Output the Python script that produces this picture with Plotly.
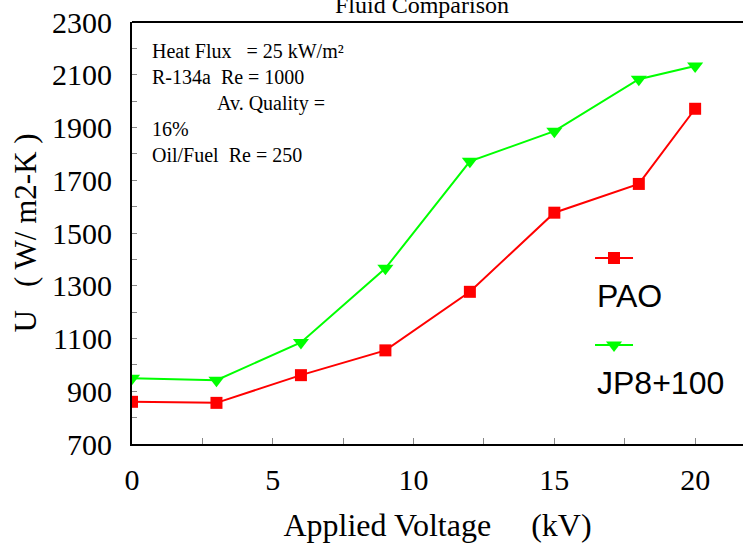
import plotly.graph_objects as go

voltage = [0, 3, 6, 9, 12, 15, 18, 20]
pao = [860, 856, 961, 1055, 1277, 1577, 1686, 1971]
jp8 = [949, 942, 1085, 1366, 1772, 1886, 2083, 2133]

x_ticks = [0, 5, 10, 15, 20]
y_ticks = [700, 900, 1100, 1300, 1500, 1700, 1900, 2100, 2300]

RED = "#FF0000"
GREEN = "#00FF00"
SERIF = "Liberation Serif"
SANS = "Liberation Sans"

fig = go.Figure()
fig.add_trace(go.Scatter(x=voltage, y=pao, mode="lines+markers", name="PAO",
                         line=dict(color=RED, width=2),
                         marker=dict(symbol="square", size=12, color=RED),
                         showlegend=False))
fig.add_trace(go.Scatter(x=voltage, y=jp8, mode="lines+markers", name="JP8+100",
                         line=dict(color=GREEN, width=2),
                         marker=dict(symbol="triangle-down", size=14, color=GREEN),
                         showlegend=False))

# legend keys drawn on an overlay axis in 0..1 units
legend_keys = [("PAO", RED, "square", 12, 0.4408), ("JP8+100", GREEN, "triangle-down", 14, 0.2346)]
shapes = [dict(type="line", xref="paper", yref="paper", x0=0, x1=1, y0=1, y1=1,
               line=dict(color="black", width=2))]
for name, col, sym, sz, yk in legend_keys:
    shapes.append(dict(type="line", xref="paper", yref="paper", x0=0.7578, x1=0.8200,
                       y0=yk, y1=yk, line=dict(color=col, width=2)))
    fig.add_trace(go.Scatter(x=[0.7889], y=[yk], mode="markers",
                             xaxis="x2", yaxis="y2", showlegend=False, hoverinfo="skip",
                             marker=dict(symbol=sym, size=sz, color=col)))

annotations = [
    dict(text="Fluid Comparison", xref="paper", yref="paper", x=0.4746, y=1,
         xanchor="center", yanchor="bottom", yshift=2, showarrow=False,
         font=dict(family=SERIF, size=24, color="black")),
    dict(text=("Heat Flux&nbsp;&nbsp;&nbsp;= 25 kW/m²<br>"
               "R-134a&nbsp;&nbsp;Re = 1000<br>"
               + "&nbsp;" * 13 + "Av. Quality =<br>"
               "16%<br>"
               "Oil/Fuel&nbsp;&nbsp;Re = 250"),
         xref="paper", yref="paper", x=0, y=1, xanchor="left", yanchor="top",
         xshift=18, yshift=-16, align="left", showarrow=False,
         font=dict(family=SERIF, size=20, color="black")),
    dict(text="PAO", xref="paper", yref="paper", x=0.7578, y=0.3507, xanchor="left",
         yanchor="middle", showarrow=False, font=dict(family=SANS, size=32, color="black")),
    dict(text="JP8+100", xref="paper", yref="paper", x=0.7578, y=0.1445, xanchor="left",
         yanchor="middle", showarrow=False, font=dict(family=SANS, size=32, color="black")),
]

fig.update_layout(
    width=743, height=548,
    margin=dict(l=132, r=0, t=22, b=104),
    paper_bgcolor="white", plot_bgcolor="white",
    font=dict(family=SERIF, color="black"),
    annotations=annotations,
    shapes=shapes,
    xaxis=dict(range=[0, 21.7], tickvals=x_ticks, ticks="inside", ticklen=6, tickwidth=1,
               tickcolor="#888888", showline=True, linecolor="black", linewidth=2,
               showgrid=False, zeroline=False,
               minor=dict(ticks="inside", dtick=2.5, ticklen=6, tickcolor="#888888", showgrid=False),
               tickfont=dict(family=SERIF, size=30, color="black"), ticklabelstandoff=8,
               title=dict(text="Applied Voltage&nbsp;&nbsp;&nbsp;&nbsp;&nbsp;(kV)", standoff=19,
                          font=dict(family=SERIF, size=32, color="black"))),
    yaxis=dict(range=[700, 2300], tickvals=y_ticks, ticks="inside", ticklen=5, tickwidth=1,
               tickcolor="#888888", showline=True, linecolor="black", linewidth=2,
               showgrid=False, zeroline=False,
               minor=dict(ticks="inside", dtick=100, ticklen=5, tickcolor="#888888", showgrid=False),
               tickfont=dict(family=SERIF, size=30, color="black"), ticklabelstandoff=12,
               title=dict(text="U&nbsp;&nbsp;&nbsp;( W/ m2-K )", standoff=6,
                          font=dict(family=SERIF, size=31, color="black"))),
    xaxis2=dict(range=[0, 1], overlaying="x", visible=False),
    yaxis2=dict(range=[0, 1], overlaying="y", visible=False),
)

fig.write_html("out.html")
